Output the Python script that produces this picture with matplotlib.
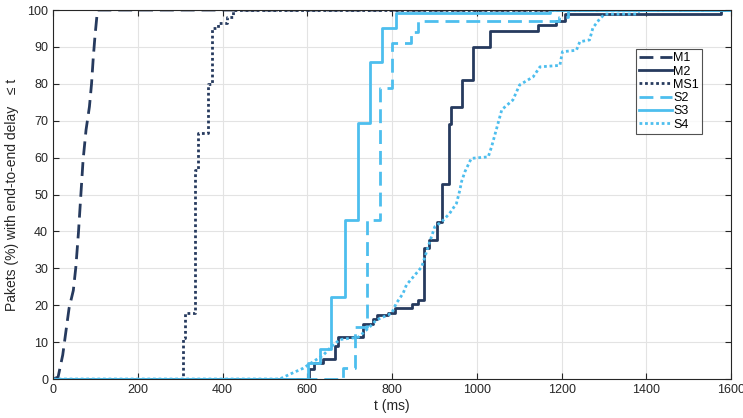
import numpy as np
import matplotlib
matplotlib.use("Agg")
import matplotlib.pyplot as plt

# CDF of end-to-end delay per scenario (t in ms, value in %)
m1_t = [0, 12, 23, 31, 38, 48, 54, 60, 65, 71, 78, 86, 91, 95, 99, 105, 1600]
m1_v = [0, 0.5, 6.5, 13.3, 19.2, 24, 30.4, 39.5, 48.5, 59.3, 67.5, 73.8, 80, 87, 92.8, 100, 100]

m2_t = [0, 605, 616, 638, 665, 673, 732, 755, 764, 791, 807, 846, 862, 875, 888,
        905, 917, 935, 940, 964, 990, 1031, 1145, 1188, 1208, 1575, 1600]
m2_v = [0, 2.6, 4.4, 5.4, 9, 11.3, 15, 16.2, 17.3, 18, 19.2, 20.3, 21.4, 35.4, 37.7,
        42.6, 52.8, 69, 73.7, 81, 90, 94.4, 95.9, 97, 98.9, 100, 100]

ms1_t = [0, 306, 311, 335, 343, 366, 375, 390, 410, 425, 1600]
ms1_v = [0, 11, 17.8, 56.6, 66.6, 80, 95, 96.5, 98, 100, 100]

s2_t = [0, 684, 712, 740, 771, 800, 845, 862, 1195, 1215, 1600]
s2_v = [0, 3, 14, 43, 79, 91, 94, 97, 98, 100, 100]

s3_t = [0, 602, 630, 657, 689, 720, 749, 777, 809, 1172, 1600]
s3_v = [0, 4.3, 8, 22.3, 43, 69.4, 86, 95, 99.3, 100, 100]

s4_t = [0, 535, 559, 590, 614, 638, 657, 677, 720, 731, 748, 763, 783, 799, 810, 826,
        834, 854, 870, 885, 901, 917, 936, 952, 960, 964, 972, 987, 1027, 1035, 1059,
        1085, 1101, 1133, 1149, 1196, 1202, 1235, 1243, 1266, 1274, 1290, 1302, 1377,
        1385, 1600]
s4_v = [0, 0, 1.3, 2.9, 4.7, 6.5, 8.8, 10.7, 11.3, 12.4, 14.2, 16, 17, 17.8, 20.5, 23.2,
        25.5, 28.2, 30.4, 35.8, 41.3, 42.6, 44.9, 47.6, 51.2, 53.5, 56.2, 59.8, 60.2, 63, 73,
        75.6, 79.7, 81.9, 84.6, 85, 88.7, 89.1, 91.4, 91.9, 95.2, 97.6, 98.9, 98.9,
        100, 100]

dark = '#263a5e'
light = '#4dbeee'

plt.rcParams['font.family'] = ['Liberation Sans', 'DejaVu Sans']

fig = plt.figure(figsize=(7.43, 4.18), dpi=100)
ax = fig.add_axes([0.0713, 0.0933, 0.9127, 0.8827])

lw = 2.0
ax.plot(m1_t, m1_v, color=dark, lw=lw, dashes=(5, 2.5), label='M1')
ax.step(m2_t, m2_v, where='post', color=dark, lw=lw, label='M2')
ax.step(ms1_t, ms1_v, where='post', color=dark, lw=lw, dashes=(1, 1), label='MS1')
ax.step(s2_t, s2_v, where='post', color=light, lw=lw, dashes=(5, 2.5), label='S2')
ax.step(s3_t, s3_v, where='post', color=light, lw=lw, label='S3')
ax.plot(s4_t, s4_v, color=light, lw=lw, dashes=(1, 1), label='S4')

ax.set_xlim(0, 1600)
ax.set_ylim(0, 100)
ax.set_xticks(np.arange(0, 1601, 200))
ax.set_yticks(np.arange(0, 101, 10))
ax.grid(True, color='#e3e3e3', lw=0.8)
ax.set_axisbelow(True)
ax.tick_params(direction='in', top=True, right=True, labelsize=9,
               colors='#262626', length=4)
for sp in ax.spines.values():
    sp.set_color('#262626')
    sp.set_linewidth(0.8)

ax.set_xlabel('t (ms)', fontsize=10, color='#262626', labelpad=2)
ax.set_ylabel('Pakets (%) with end-to-end delay   \u2264 t', fontsize=10,
              color='#262626', labelpad=6)

leg = ax.legend(loc='upper left', bbox_to_anchor=(0.86, 0.894), fontsize=9,
                frameon=True, fancybox=False, handlelength=2.6,
                handletextpad=0.1, borderpad=0.25, labelspacing=0.1,
                borderaxespad=0)
leg.get_frame().set_edgecolor('#262626')
leg.get_frame().set_linewidth(0.8)

fig.savefig('out.png', dpi=100)
